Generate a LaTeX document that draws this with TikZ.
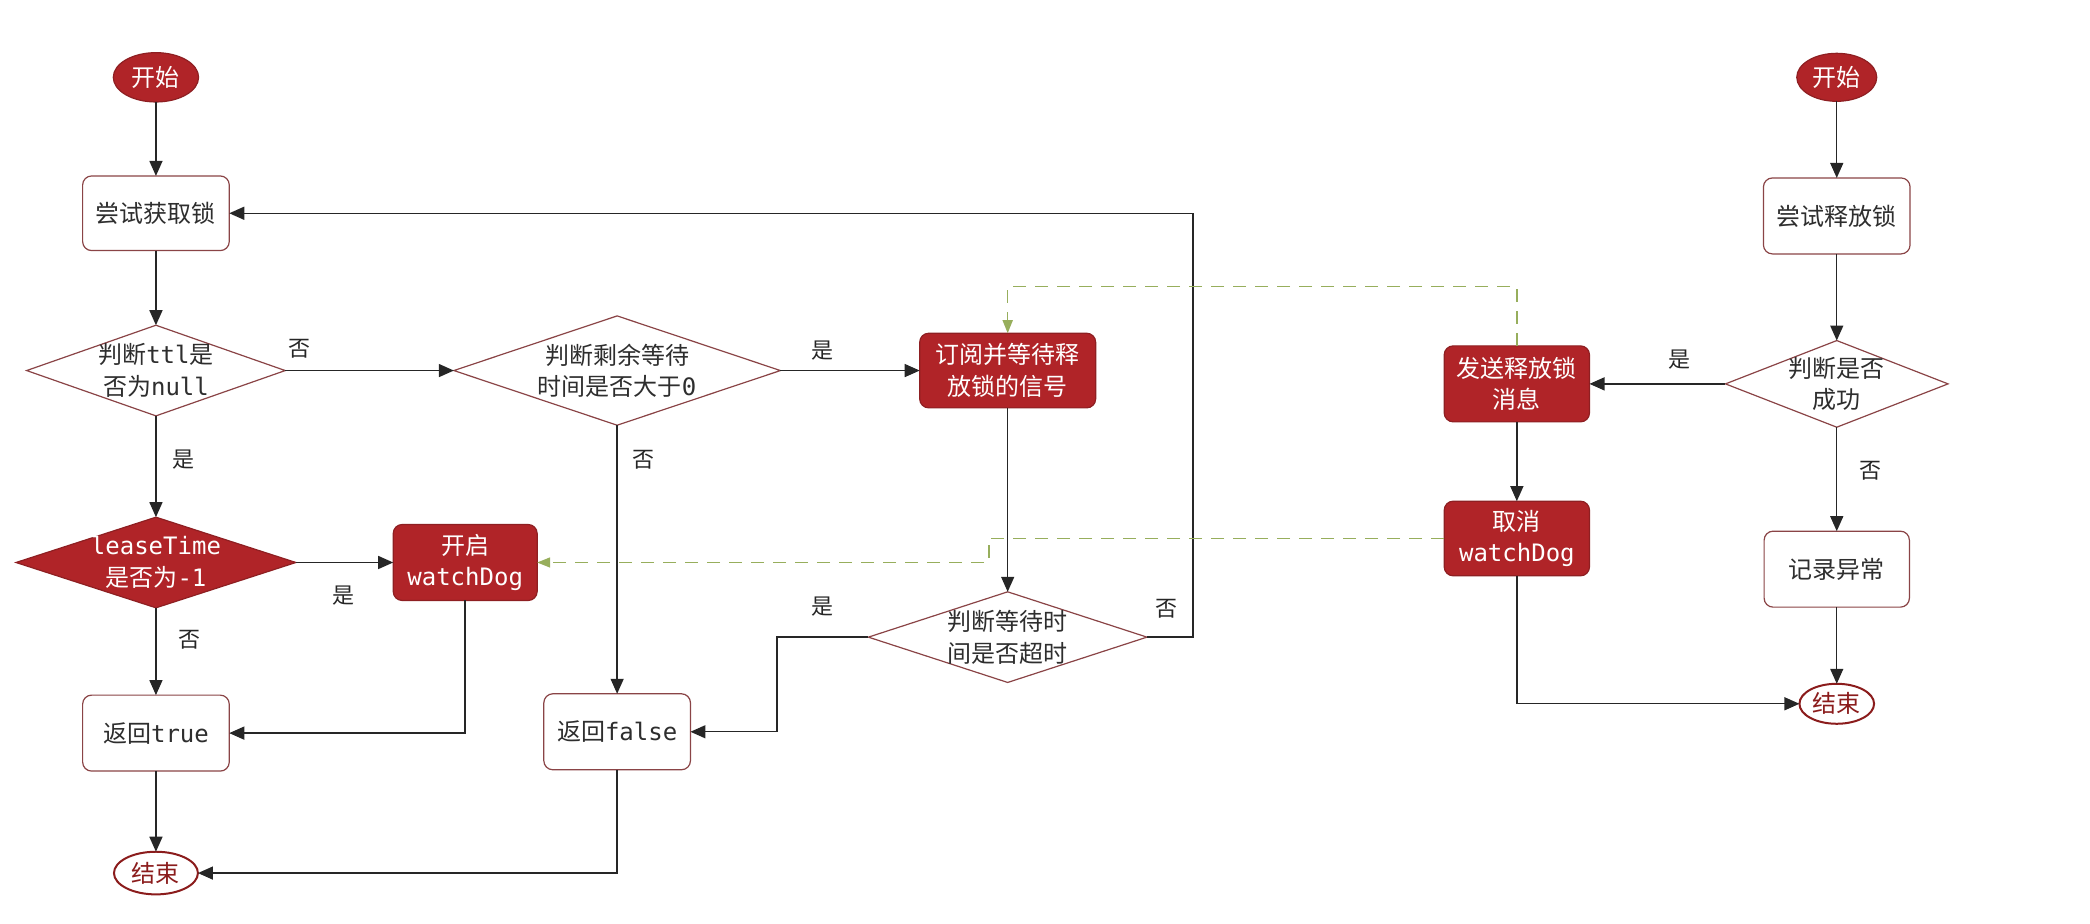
\documentclass[tikz,border=0pt]{standalone}
\usepackage{fontspec}
\setmainfont{Noto Sans CJK SC}
\newfontfamily\mono{DejaVu Sans Mono}
\usetikzlibrary{shapes.geometric,arrows.meta}
\definecolor{redfill}{HTML}{B02428}
\definecolor{redline}{HTML}{8E1F22}
\definecolor{boxline}{HTML}{8A4446}
\definecolor{txtgray}{HTML}{2E2E2E}
\definecolor{dashgreen}{HTML}{97AE5C}
\definecolor{endred}{HTML}{8B1C1C}
\tikzset{
  wh/.style 2 args={minimum width=#1*1.3329pt,minimum height=#2*1.3329pt},
  base/.style={inner sep=0pt,outer sep=0pt,align=center,font=\fontsize{24}{31.5}\selectfont},
  whitebox/.style={base,rectangle,rounded corners=9pt,draw=boxline,line width=1.2pt,fill=white,text=txtgray},
  redbox/.style={base,rectangle,rounded corners=9pt,draw=redline,line width=1.2pt,fill=redfill,text=white},
  startnode/.style={base,ellipse,draw=redline,line width=1.2pt,fill=redfill,text=white},
  endnode/.style={base,ellipse,draw=endred,line width=2pt,fill=white,text=endred},
  decision/.style={diamond,draw=boxline,line width=1.2pt,fill=white,inner sep=0pt,outer sep=0pt},
  reddecision/.style={diamond,draw=redline,line width=1.2pt,fill=redfill,inner sep=0pt,outer sep=0pt},
  dtext/.style={base,text=txtgray},
  rtext/.style={base,text=white},
  arrowline/.style={line width=1.4pt,draw=black!85,-{Triangle[length=15pt,width=13pt]}},
  notify/.style={line width=1.6pt,draw=dashgreen,dash pattern=on 13pt off 9pt,-{Triangle[length=13pt,width=10pt]}},
  lbl/.style={font=\fontsize{22}{22}\selectfont,text=black!85,inner sep=0pt}
}
\begin{document}
\begin{tikzpicture}[x=1.3329pt,y=-1.3329pt]
\useasboundingbox (0,0) rectangle (1568,693);

% ---------- acquiring the lock ----------
\node[startnode,wh={64}{37}] (s1) at (117,58) {开始};
\node[whitebox,wh={110}{56}] (a1) at (117,160) {尝试获取锁};
\node[decision,wh={194}{68}] (d1) at (117,278) {};
\node[dtext] (d1t) at (d1) {判断{\mono ttl}是\\否为{\mono null}};
\node[decision,wh={245}{82}] (d2) at (463,278) {};
\node[dtext] (d2t) at (d2) {判断剩余等待\\时间是否大于{\mono 0}};
\node[redbox,wh={132}{56}] (b1) at (756,278) {订阅并等待释\\放锁的信号};
\node[reddecision,wh={210}{68}] (d3) at (117,422) {};
\node[rtext] (d3t) at (d3) {{\mono leaseTime}\\是否为{\mono -1}};
\node[redbox,wh={108}{57}] (wd) at (349,422) {开启\\{\mono watchDog}};
\node[whitebox,wh={110}{57}] (rt) at (117,550) {返回{\mono true}};
\node[whitebox,wh={110}{57}] (rf) at (463,549) {返回{\mono false}};
\node[decision,wh={209}{68}] (d4) at (756,478) {};
\node[dtext] (d4t) at (d4) {判断等待时\\间是否超时};
\node[endnode,wh={63}{32}] (e1) at (117,655) {结束};

% ---------- releasing the lock ----------
\node[startnode,wh={60}{36}] (s2) at (1378,58) {开始};
\node[whitebox,wh={110}{57}] (a2) at (1378,162) {尝试释放锁};
\node[decision,wh={167}{65}] (d5) at (1378,288) {};
\node[dtext] (d5t) at (d5) {判断是否\\成功};
\node[redbox,wh={109}{57}] (send) at (1138,288) {发送释放锁\\消息};
\node[redbox,wh={109}{56}] (cancel) at (1138,404) {取消\\{\mono watchDog}};
\node[whitebox,wh={109}{57}] (a3) at (1378,427) {记录异常};
\node[endnode,wh={56}{30}] (e2) at (1378,528) {结束};

% ---------- branch labels ----------
\node[lbl] (l1) at (225,262) {否};
\node[lbl] (l2) at (617,263) {是};
\node[lbl] (l3) at (138,345) {是};
\node[lbl] (l4) at (483,345) {否};
\node[lbl] (l5) at (258,447) {是};
\node[lbl] (l6) at (142,480) {否};
\node[lbl] (l7) at (617,455) {是};
\node[lbl] (l8) at (875,457) {否};
\node[lbl] (l9) at (1260,270) {是};
\node[lbl] (l10) at (1403,353) {否};

% ---------- flow of the acquire path ----------
\draw[arrowline] (s1) -- (a1);
\draw[arrowline] (a1) -- (d1);
\draw[arrowline] (d1.east) -- (d2.west);
\draw[arrowline] (d1.south) -- (d3.north);
\draw[arrowline] (d2.east) -- (b1.west);
\draw[arrowline] (d2.south) -- (rf.north);
\draw[arrowline] (d3.east) -- (wd.west);
\draw[arrowline] (d3.south) -- (rt.north);
\draw[arrowline] (wd.south) |- (rt.east);
\draw[arrowline] (b1.south) -- (d4.north);
\coordinate (k1) at (583,478);
\draw[arrowline] (d4.west) -- (k1) |- (rf.east);
\coordinate (k2) at (895,478);
\draw[arrowline] (d4.east) -- (k2) |- (a1.east);
\draw[arrowline] (rt.south) -- (e1.north);
\draw[arrowline] (rf.south) |- (e1.east);

% ---------- flow of the release path ----------
\draw[arrowline] (s2) -- (a2);
\draw[arrowline] (a2) -- (d5);
\draw[arrowline] (d5.west) -- (send.east);
\draw[arrowline] (d5.south) -- (a3.north);
\draw[arrowline] (a3) -- (e2);
\draw[arrowline] (send) -- (cancel);
\draw[arrowline] (cancel.south) |- (e2.west);

% ---------- signals between the two paths ----------
\coordinate (g1) at (1138,215);
\coordinate (g2) at (756,215);
\draw[notify] (send.north) -- (g1) -- (g2) -- (b1.north);
\coordinate (g3) at (742,404);
\coordinate (g4) at (742,422);
\draw[notify] (cancel.west) -- (g3) -- (g4) -- (wd.east);
\end{tikzpicture}
\end{document}
